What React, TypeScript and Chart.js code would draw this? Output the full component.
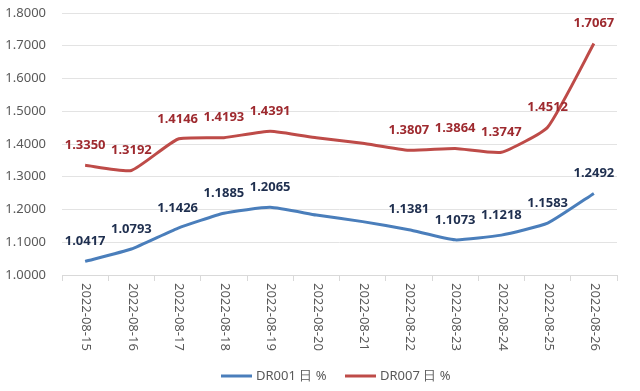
import React, { useEffect, useRef } from "react";
import { Chart, registerables } from "chart.js";

Chart.register(...registerables);

const categories = [
  "2022-08-15", "2022-08-16", "2022-08-17", "2022-08-18", "2022-08-19", "2022-08-20",
  "2022-08-21", "2022-08-22", "2022-08-23", "2022-08-24", "2022-08-25", "2022-08-26",
];
const dr001 = [1.0417, 1.0793, 1.1426, 1.1885, 1.2065, 1.183, 1.163, 1.1381, 1.1073, 1.1218, 1.1583, 1.2492];
const dr007 = [1.335, 1.3192, 1.4146, 1.4193, 1.4391, 1.419, 1.402, 1.3807, 1.3864, 1.3747, 1.4512, 1.7067];
// indices whose values carry a data label
const labeledIdx = [0, 1, 2, 3, 4, 7, 8, 9, 10, 11];
const seriesNames = ["DR001 日 %", "DR007 日 %"];
const yTicks = { min: 1.0, max: 1.8, step: 0.1 };

const lineColors = ["#4A7EBB", "#BE4B48"];
const labelColors = ["#1F2F4F", "#9E2A2F"];
const FONT = "'Noto Sans', 'Open Sans', sans-serif";

const overlay = {
  id: "overlay",
  afterDatasetsDraw(chart: any) {
    const ctx = chart.ctx;
    const xs = chart.scales.x;
    const area = chart.chartArea;
    ctx.save();
    // data labels
    ctx.font = `bold 13px ${FONT}`;
    ctx.textAlign = "center";
    ctx.textBaseline = "middle";
    chart.data.datasets.forEach((ds: any, di: number) => {
      const meta = chart.getDatasetMeta(di);
      ctx.fillStyle = labelColors[di];
      labeledIdx.forEach((i) => {
        const el = meta.data[i];
        ctx.fillText((ds.data[i] as number).toFixed(4), el.x, el.y - 20);
      });
    });
    // x labels rotated clockwise
    ctx.font = `13px ${FONT}`;
    ctx.fillStyle = "#595959";
    ctx.textAlign = "left";
    ctx.textBaseline = "middle";
    categories.forEach((c, i) => {
      const x = xs.getPixelForValue(i);
      ctx.save();
      ctx.translate(x + 1, area.bottom + 8);
      ctx.rotate(Math.PI / 2);
      ctx.fillText(c, 0, 0);
      ctx.restore();
    });
    // legend
    const ly = 376;
    const items = [
      { x: 221, name: seriesNames[0] },
      { x: 345, name: seriesNames[1] },
    ];
    items.forEach((it, k) => {
      ctx.strokeStyle = lineColors[k];
      ctx.lineWidth = 3;
      ctx.beginPath();
      ctx.moveTo(it.x, ly);
      ctx.lineTo(it.x + 31, ly);
      ctx.stroke();
      ctx.fillStyle = "#595959";
      ctx.textAlign = "left";
      ctx.fillText(it.name, it.x + 35, ly);
    });
    ctx.restore();
  },
};

export default function App() {
  const ref = useRef<HTMLCanvasElement>(null);
  useEffect(() => {
    const chart = new Chart(ref.current!, {
      type: "line",
      data: {
        labels: categories,
        datasets: [
          { label: seriesNames[0], data: dr001, borderColor: lineColors[0], borderWidth: 3, pointRadius: 0, tension: 0.15, fill: false },
          { label: seriesNames[1], data: dr007, borderColor: lineColors[1], borderWidth: 3, pointRadius: 0, tension: 0.15, fill: false },
        ],
      },
      options: {
        animation: false,
        responsive: false,
        maintainAspectRatio: false,
        layout: { padding: { left: 0, right: 23, top: 13, bottom: 110 } },
        plugins: { legend: { display: false }, tooltip: { enabled: false } },
        scales: {
          x: {
            offset: true,
            ticks: { display: false },
            grid: { drawOnChartArea: false, drawTicks: true, tickLength: 6, color: "#d9d9d9", offset: true },
            border: { color: "#d9d9d9", width: 1 },
          },
          y: {
            min: yTicks.min,
            max: yTicks.max,
            afterFit: (s: any) => { s.width = 62; s.paddingTop = 0; s.paddingBottom = 0; },
            ticks: {
              stepSize: yTicks.step,
              color: "#595959",
              font: { size: 13, family: FONT },
              padding: 16,
              callback: (v: any) => Number(v).toFixed(4),
            },
            grid: { color: "#e3e3e3", drawTicks: false },
            border: { display: false },
          },
        },
      },
      plugins: [overlay],
    });
    return () => chart.destroy();
  }, []);
  return (
    <div style={{ position: "fixed", left: 0, top: 0, width: 640, height: 391, background: "#fff" }}>
      <canvas ref={ref} width={640} height={391} style={{ width: 640, height: 391 }} />
    </div>
  );
}
